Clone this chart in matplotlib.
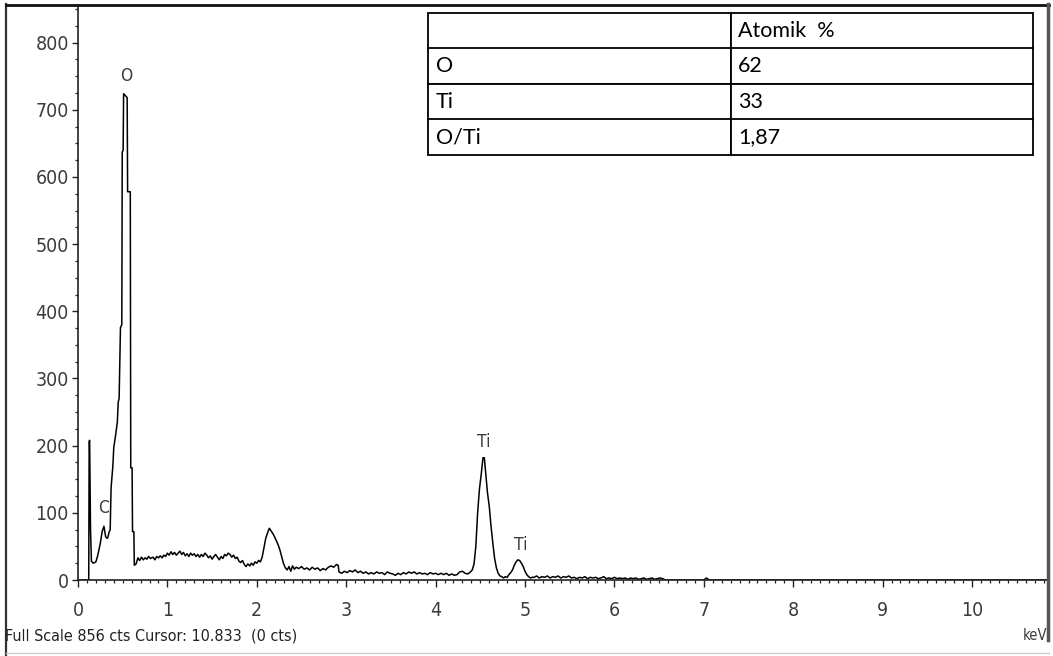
import numpy as np
import matplotlib
matplotlib.use('Agg')
import matplotlib.pyplot as plt
from matplotlib.lines import Line2D
from matplotlib.ticker import MultipleLocator

# EDS spectrum, energy (keV) vs counts
kev_low = [0.00, 0.11, 0.12, 0.125, 0.13, 0.14, 0.15, 0.17, 0.20, 0.22, 0.25, 0.27,
           0.29, 0.31, 0.33, 0.35, 0.36, 0.37, 0.39, 0.40, 0.42, 0.44, 0.45, 0.46,
           0.475, 0.49, 0.495, 0.505, 0.51, 0.55, 0.555, 0.585, 0.59, 0.605, 0.61,
           0.625, 0.63]
cts_low = [0, 0, 0, 206, 208, 75, 28, 25, 27, 36, 55, 72,
           80, 64, 62, 72, 75, 137, 170, 197, 215, 235, 265, 270,
           376, 380, 637, 640, 724, 718, 578, 578, 167, 167, 72,
           72, 22]

kev_mid = [0.65, 0.67, 0.69, 0.71, 0.73, 0.75, 0.77, 0.79, 0.81, 0.84, 0.86, 0.88,
           0.90, 0.92, 0.94, 0.96, 0.98, 1.00, 1.02, 1.04, 1.06, 1.08, 1.10, 1.12,
           1.14, 1.16, 1.18, 1.20, 1.22, 1.24, 1.26, 1.28, 1.30, 1.32, 1.34, 1.36,
           1.38, 1.40, 1.42, 1.44, 1.46, 1.48, 1.50, 1.52, 1.54, 1.56, 1.58, 1.60,
           1.62, 1.64, 1.66, 1.68, 1.70, 1.72, 1.74, 1.76, 1.78, 1.80, 1.82, 1.84,
           1.86, 1.88, 1.90, 1.92, 1.94, 1.96, 1.98, 2.00, 2.02, 2.04, 2.06, 2.08,
           2.10, 2.12, 2.14, 2.16, 2.18, 2.20, 2.22, 2.24, 2.26, 2.28, 2.30, 2.32,
           2.34, 2.36, 2.38, 2.40, 2.42, 2.44]
cts_mid = [24, 33, 29, 34, 30, 33, 31, 35, 32, 34, 30, 35,
           33, 36, 33, 37, 35, 40, 37, 42, 38, 41, 37, 40,
           43, 38, 41, 36, 39, 35, 40, 37, 39, 35, 38, 34,
           38, 35, 40, 37, 33, 36, 31, 35, 38, 34, 30, 35,
           32, 38, 36, 40, 38, 34, 37, 32, 34, 28, 26, 29,
           23, 20, 24, 21, 25, 22, 27, 25, 29, 27, 34, 48,
           62, 70, 77, 73, 69, 64, 58, 52, 44, 34, 24, 18,
           15, 20, 13, 21, 16, 19]

kev_bg = [2.47, 2.50, 2.53, 2.56, 2.59, 2.62, 2.65, 2.68, 2.71, 2.74, 2.77, 2.80,
          2.83, 2.86, 2.89, 2.91, 2.92, 2.95, 2.98, 3.01, 3.04, 3.07, 3.10, 3.13,
          3.16, 3.19, 3.22, 3.25, 3.28, 3.31, 3.34, 3.37, 3.40, 3.43, 3.46, 3.49,
          3.52, 3.55, 3.58, 3.61, 3.64, 3.67, 3.70, 3.73, 3.76, 3.79, 3.82, 3.85,
          3.88, 3.91, 3.94, 3.97, 4.00, 4.03, 4.06, 4.09, 4.12, 4.15, 4.18, 4.21,
          4.24, 4.27, 4.30, 4.33, 4.36]
cts_bg = [17, 20, 16, 18, 15, 19, 16, 18, 14, 17, 15, 19,
          21, 19, 23, 22, 12, 10, 13, 11, 14, 12, 15, 11,
          13, 10, 12, 9, 11, 9, 12, 10, 11, 8, 12, 10,
          9, 7, 10, 8, 11, 9, 12, 10, 12, 9, 11, 9,
          10, 8, 11, 9, 10, 8, 10, 8, 10, 7, 9, 7,
          8, 12, 13, 10, 9]

kev_ti = [4.39, 4.41, 4.43, 4.45, 4.47, 4.49, 4.51, 4.53, 4.545, 4.56, 4.58, 4.60,
          4.62, 4.64, 4.66, 4.68, 4.70, 4.72, 4.74, 4.76, 4.78, 4.80, 4.82, 4.84,
          4.86, 4.88, 4.90, 4.92, 4.94, 4.96, 4.98, 5.00, 5.02, 5.04, 5.06, 5.08]
cts_ti = [12, 15, 24, 50, 100, 135, 157, 182, 182, 160, 130, 110,
          80, 55, 32, 18, 10, 6, 5, 3, 5, 4, 8, 11,
          15, 22, 27, 30, 29, 25, 20, 13, 8, 5, 3, 4]

kev_tail = [5.10, 5.13, 5.16, 5.19, 5.22, 5.25, 5.28, 5.31, 5.34, 5.37, 5.40, 5.43,
            5.46, 5.49, 5.52, 5.55, 5.58, 5.61, 5.64, 5.67, 5.70, 5.73, 5.76, 5.79,
            5.82, 5.85, 5.88, 5.91, 5.94, 5.97, 6.00, 6.03, 6.06, 6.09, 6.12, 6.15,
            6.18, 6.21, 6.24, 6.27, 6.30, 6.33, 6.36, 6.39, 6.42, 6.45, 6.48, 6.51,
            6.54, 6.57, 7.00, 7.03, 7.06, 10.85]
cts_tail = [4, 6, 3, 5, 4, 6, 3, 5, 4, 6, 3, 5,
            4, 6, 3, 4, 2, 4, 3, 5, 2, 4, 3, 4,
            2, 3, 5, 2, 3, 2, 4, 2, 3, 2, 3, 1,
            3, 2, 3, 1, 2, 3, 1, 2, 3, 1, 2, 3,
            2, 0, 0, 3, 0, 0]

kev = kev_low + kev_mid + kev_bg + kev_ti + kev_tail
cts = cts_low + cts_mid + cts_bg + cts_ti + cts_tail

# peak labels
peak_names = ['O', 'C', 'Ti', 'Ti']
peak_kev = [0.537, 0.29, 4.54, 4.955]
peak_cts = [750, 107, 206, 52]

# quantification table
tab_header = ['', 'Atomik  %']
tab_rows = ['O', 'Ti', 'O/Ti']
tab_vals = ['62', '33', '1,87']

full_scale = 856
x_max = 10.85

narrow = ['DejaVu Sans']
gray = '#3c3c3c'

W, H = 1053, 656
fig = plt.figure(figsize=(W/100., H/100.), dpi=100)
ax = fig.add_axes([78./W, 1-580./H, (1048.-78.)/W, (580.-5.)/H])

ax.plot(kev, cts, color='black', lw=1.1)
ax.set_xlim(0, x_max)
ax.set_ylim(0, full_scale)

for s in ['top', 'right']:
    ax.spines[s].set_visible(False)
for s in ['left', 'bottom']:
    ax.spines[s].set_color('#222222')
    ax.spines[s].set_linewidth(1.2)

ax.xaxis.set_major_locator(MultipleLocator(1))
ax.xaxis.set_minor_locator(MultipleLocator(0.1))
ax.yaxis.set_major_locator(MultipleLocator(100))
ax.yaxis.set_minor_locator(MultipleLocator(25))
ax.tick_params(axis='x', which='major', length=5, width=1.0, pad=10, color='#222222')
ax.tick_params(axis='x', which='minor', length=2.5, width=0.9, color='#222222')
ax.tick_params(axis='y', which='major', length=4.5, width=1.0, pad=2, color='#222222')
ax.tick_params(axis='y', which='minor', length=2.5, width=0.9, color='#222222')
for lab in ax.get_xticklabels() + ax.get_yticklabels():
    lab.set_family(narrow)
    lab.set_stretch('condensed')
    lab.set_fontsize(14)
    lab.set_color(gray)

for name, x, y in zip(peak_names, peak_kev, peak_cts):
    ax.text(x, y, name, ha='center', va='center', family=narrow, stretch='condensed',
            fontsize=12.5, color=gray)

# table in upper right
cell_text = [tab_header] + [[r, v] for r, v in zip(tab_rows, tab_vals)]
tb = ax.table(cellText=cell_text, cellLoc='left',
              bbox=[(428.-78)/970., (580.-155)/575., (1033.-428)/970., 142./575.])
tb.auto_set_font_size(False)
for (r, c), cell in tb.get_celld().items():
    cell.PAD = 0.025
    cell.set_linewidth(1.3)
    cell.set_edgecolor('black')
    cell.get_text().set_fontsize(15.5)
    cell.get_text().set_family(['Lato', 'DejaVu Sans'])
    cell.get_text().set_color('black')

fig.text(5./W, 1-636./H, 'Full Scale %d cts Cursor: 10.833  (0 cts)' % full_scale,
         ha='left', va='center', family=narrow, stretch='condensed', fontsize=11.5,
         color='#222222')
fig.text(1047./W, 1-636./H, 'keV', ha='right', va='center', family=narrow,
         stretch='condensed', fontsize=10.5, color=gray)

# outer frame
fig.add_artist(Line2D([6./W, 6./W], [0, 1-4./H], color='#333333', lw=1.6))
fig.add_artist(Line2D([6./W, 1049./W], [1-5./H, 1-5./H], color='#111111', lw=2.0))
fig.add_artist(Line2D([1048./W, 1048./W], [1-4./H, 1-640./H], color='#555555', lw=2.5))
fig.add_artist(Line2D([6./W, 1049./W], [1-653./H, 1-653./H], color='#cccccc', lw=1.0))

fig.savefig('out.png', dpi=100)
